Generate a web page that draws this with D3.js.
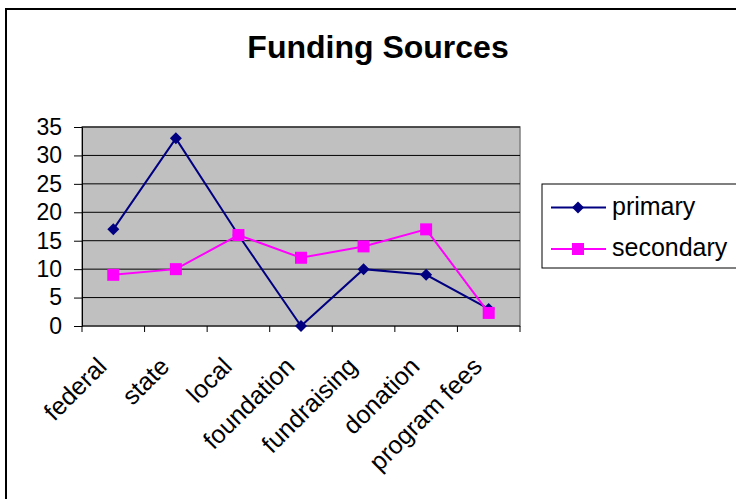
<!DOCTYPE html>
<html><head><meta charset="utf-8">
<script src="https://cdn.jsdelivr.net/npm/d3@7"></script>
<style>body{margin:0;background:#fff}svg{display:block;font-family:"Liberation Sans",Arial,sans-serif}</style>
</head><body><svg id="c" width="736" height="499"></svg>
<script>
const categories = ["federal","state","local","foundation","fundraising","donation","program fees"];
const primary = [17, 33, 16, 0, 10, 9, 3];
const secondary = [9, 10, 16, 12, 14, 17, 2.3];
const yTicks = [0,5,10,15,20,25,30,35];
const seriesNames = ["primary","secondary"];

const svg = d3.select("#c");
const m = {l:82, t:127, r:520, b:326};
svg.append("rect").attr("x",6).attr("y",9).attr("width",740).attr("height",500)
  .attr("fill","#fff").attr("stroke","#000").attr("stroke-width",2);
svg.append("text").attr("x",378).attr("y",58).attr("text-anchor","middle")
  .attr("font-size",32).attr("font-weight","bold").text("Funding Sources");

const x = d3.scaleBand().domain(categories).range([m.l,m.r]);
const y = d3.scaleLinear().domain([0,35]).range([m.b,m.t]);

svg.append("rect").attr("x",m.l).attr("y",m.t).attr("width",m.r-m.l).attr("height",m.b-m.t)
  .attr("fill","#c0c0c0").attr("stroke","#808080").attr("stroke-width",1.5);
svg.append("g").selectAll("line").data(yTicks.slice(1)).join("line")
  .attr("x1",m.l).attr("x2",m.r).attr("y1",d=>y(d)).attr("y2",d=>y(d))
  .attr("stroke","#000").attr("stroke-width",1);

const ya = svg.append("g").attr("transform",`translate(${m.l},0)`)
  .call(d3.axisLeft(y).tickValues(yTicks).tickSize(8).tickPadding(12));
ya.select(".domain").attr("stroke","#000");
ya.selectAll("text").attr("font-size",23).attr("fill","#000").attr("font-family","Liberation Sans, Arial, sans-serif");

const xa = svg.append("g").attr("transform",`translate(0,${m.b})`);
xa.append("line").attr("x1",m.l).attr("x2",m.r).attr("stroke","#000");
const bounds = d3.range(categories.length+1).map(i=>m.l+i*x.bandwidth());
xa.selectAll("line.t").data(bounds).join("line").attr("class","t")
  .attr("x1",d=>d).attr("x2",d=>d).attr("y1",0).attr("y2",6).attr("stroke","#000");
xa.selectAll("text").data(categories).join("text")
  .attr("font-size",25).attr("text-anchor","end")
  .attr("transform",d=>`translate(${x(d)+x.bandwidth()/2-5},${42}) rotate(-45)`)
  .text(d=>d);

const line = d3.line().x((d,i)=>x(categories[i])+x.bandwidth()/2).y(d=>y(d));
const colors = ["#000080","#ff00ff"];
[primary, secondary].forEach((data,k)=>{
  svg.append("path").attr("d",line(data)).attr("fill","none").attr("stroke",colors[k]).attr("stroke-width",2);
  const g = svg.append("g");
  data.forEach((v,i)=>{
    const cx = x(categories[i])+x.bandwidth()/2, cy = y(v);
    if(k===0) g.append("path").attr("d",`M${cx},${cy-6}L${cx+6},${cy}L${cx},${cy+6}L${cx-6},${cy}Z`).attr("fill",colors[k]);
    else g.append("rect").attr("x",cx-6).attr("y",cy-6).attr("width",12).attr("height",12).attr("fill",colors[k]);
  });
});

const lg = svg.append("g");
lg.append("rect").attr("x",542).attr("y",184).attr("width",200).attr("height",84)
  .attr("fill","#fff").attr("stroke","#000").attr("stroke-width",1);
seriesNames.forEach((n,k)=>{
  const yy = 207.5 + k*41.5;
  lg.append("line").attr("x1",551).attr("x2",606).attr("y1",yy).attr("y2",yy).attr("stroke",colors[k]).attr("stroke-width",2);
  if(k===0) lg.append("path").attr("d",`M578,${yy-6}L584,${yy}L578,${yy+6}L572,${yy}Z`).attr("fill",colors[k]);
  else lg.append("rect").attr("x",572).attr("y",yy-6).attr("width",12).attr("height",12).attr("fill",colors[k]);
  lg.append("text").attr("x",612).attr("y",yy+7).attr("font-size",25).text(n);
});
</script></body></html>
